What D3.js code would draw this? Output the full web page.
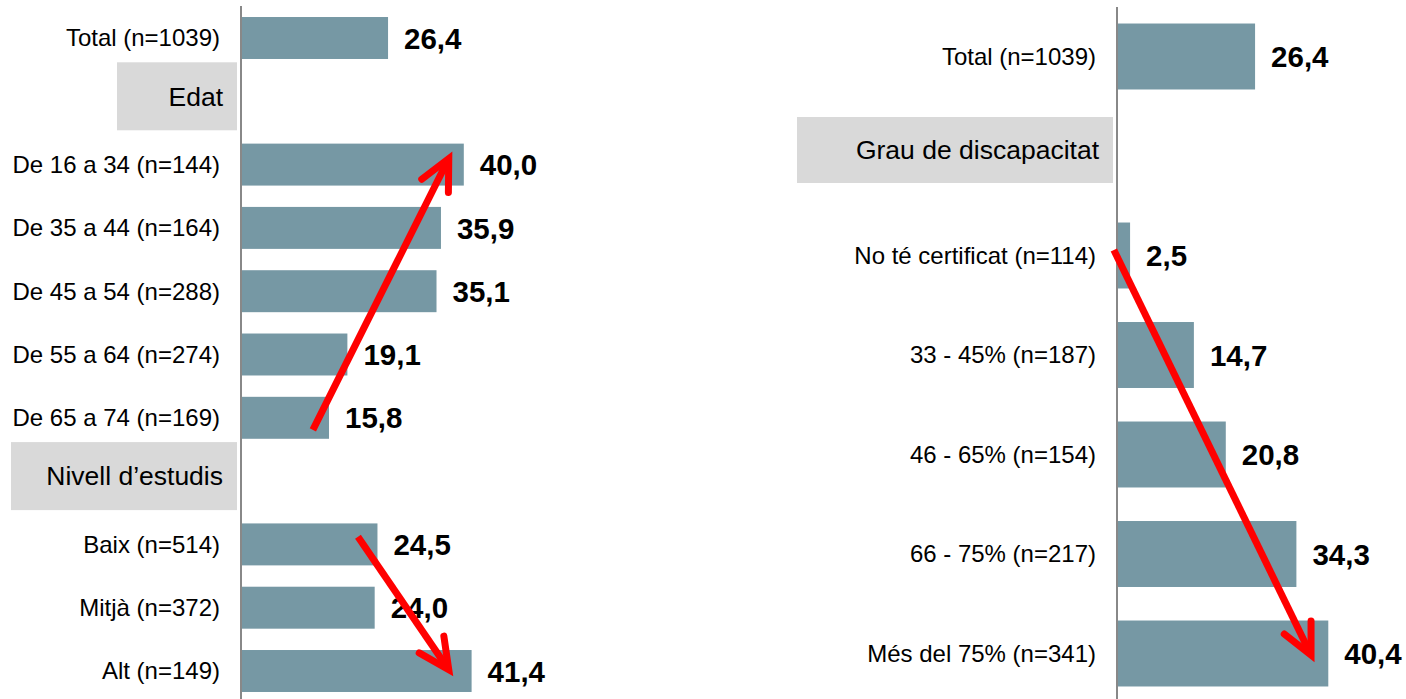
<!DOCTYPE html>
<html>
<head>
<meta charset="utf-8">
<script src="https://cdn.jsdelivr.net/npm/d3@7"></script>
<style>
  html, body { margin: 0; padding: 0; background: #fff; }
  svg { display: block; font-family: "Liberation Sans", Arial, sans-serif; }
</style>
</head>
<body>
<svg id="chart" width="1406" height="699"></svg>
<script>
// ---------- DATA ----------
const leftCategories = [
  "Total (n=1039)", "Edat",
  "De 16 a 34 (n=144)", "De 35 a 44 (n=164)", "De 45 a 54 (n=288)",
  "De 55 a 64 (n=274)", "De 65 a 74 (n=169)",
  "Nivell d’estudis",
  "Baix (n=514)", "Mitjà (n=372)", "Alt (n=149)"
];
const leftValues = [26.4, null, 40.0, 35.9, 35.1, 19.1, 15.8, null, 24.5, 24.0, 41.4];
const leftHeaders = ["Edat", "Nivell d’estudis"];

const rightCategories = [
  "Total (n=1039)", "Grau de discapacitat",
  "No té certificat (n=114)", "33 - 45% (n=187)", "46 - 65% (n=154)",
  "66 - 75% (n=217)", "Més del 75% (n=341)"
];
const rightValues = [26.4, null, 2.5, 14.7, 20.8, 34.3, 40.4];
const rightHeaders = ["Grau de discapacitat"];

// Trend arrows (category, value, offset within row as fraction of step)
const leftArrows = [
  { from: ["De 65 a 74 (n=169)", 12.9, 0.19], to: ["De 16 a 34 (n=144)", 37.3, -0.095] },
  { from: ["Baix (n=514)", 21.0, -0.12], to: ["Alt (n=149)", 37.3, -0.02] }
];
const rightArrows = [
  { from: ["No té certificat (n=114)", -0.6, -0.055], to: ["Més del 75% (n=341)", 37.1, 0.015] }
];

// ---------- LAYOUT / STYLE ----------
const W = 1406, H = 699;
const BAR = "#7698a4", BOX = "#d9d9d9", AXIS = "#888888", RED = "#ff0000";
const fmt = d3.formatLocale({decimal: ",", thousands: ".", grouping: [3], currency: ["", "€"]}).format(".1f");

const svg = d3.select("#chart");
svg.append("rect").attr("width", W).attr("height", H).attr("fill", "#fff");

function panel(cfg) {
  const g = svg.append("g");
  const x = d3.scaleLinear().domain([0, 45]).range([cfg.axisX, cfg.axisX + 45 * cfg.pxPerUnit]);
  const y = d3.scalePoint().domain(cfg.categories).range(cfg.yRange);
  const step = y.step();
  const barH = step * 0.663;
  const rows = cfg.categories.map((c, i) => ({ c, v: cfg.values[i], header: cfg.headers.includes(c) }));

  // header boxes
  const hdr = rows.filter(d => d.header);
  g.selectAll("rect.hbox").data(hdr).join("rect")
    .attr("class", "hbox")
    .attr("x", d => cfg.boxLeft[d.c])
    .attr("width", d => cfg.axisX - 4 - cfg.boxLeft[d.c])
    .attr("y", d => y(d.c) + cfg.boxOffset - cfg.boxH / 2)
    .attr("height", cfg.boxH)
    .attr("fill", BOX);
  g.selectAll("text.htxt").data(hdr).join("text")
    .attr("class", "htxt")
    .attr("x", cfg.axisX - 18)
    .attr("y", d => y(d.c) + cfg.boxOffset)
    .attr("dy", "0.35em")
    .attr("text-anchor", "end")
    .attr("font-size", cfg.headerSize)
    .attr("fill", "#000")
    .text(d => d.c);

  const data = rows.filter(d => !d.header);
  // bars
  g.selectAll("rect.bar").data(data).join("rect")
    .attr("class", "bar")
    .attr("x", x(0))
    .attr("y", d => y(d.c) - barH / 2)
    .attr("width", d => x(d.v) - x(0))
    .attr("height", barH)
    .attr("fill", BAR);

  // category labels
  g.selectAll("text.cat").data(data).join("text")
    .attr("class", "cat")
    .attr("x", cfg.axisX - 21)
    .attr("y", d => y(d.c))
    .attr("dy", "0.35em")
    .attr("text-anchor", "end")
    .attr("font-size", cfg.labelSize)
    .attr("fill", "#000")
    .text(d => d.c);

  // value labels
  g.selectAll("text.val").data(data).join("text")
    .attr("class", "val")
    .attr("x", d => x(d.v) + 16)
    .attr("y", d => y(d.c))
    .attr("dy", "0.36em")
    .attr("font-size", 29.5)
    .attr("font-weight", "bold")
    .attr("fill", "#000")
    .text(d => fmt(d.v));

  // axis line
  g.append("line")
    .attr("x1", x(0)).attr("x2", x(0))
    .attr("y1", cfg.axisTop).attr("y2", H)
    .attr("stroke", AXIS).attr("stroke-width", 2);

  // arrows
  cfg.arrows.forEach(a => {
    const x1 = x(a.from[1]), y1 = y(a.from[0]) + a.from[2] * step;
    const x2 = x(a.to[1]), y2 = y(a.to[0]) + a.to[2] * step;
    const ang = Math.atan2(y1 - y2, x1 - x2);
    const L = 34, sp = 26 * Math.PI / 180;
    const w1 = [x2 + L * Math.cos(ang + sp), y2 + L * Math.sin(ang + sp)];
    const w2 = [x2 + L * Math.cos(ang - sp), y2 + L * Math.sin(ang - sp)];
    const sx = x2 + 3 * Math.cos(ang), sy = y2 + 3 * Math.sin(ang);
    g.append("line")
      .attr("x1", x1).attr("y1", y1).attr("x2", sx).attr("y2", sy)
      .attr("stroke", RED).attr("stroke-width", 7).attr("stroke-linecap", "butt");
    g.append("path")
      .attr("d", d3.line()([w1, [x2, y2], w2]))
      .attr("fill", "none")
      .attr("stroke", RED).attr("stroke-width", 7)
      .attr("stroke-linecap", "round").attr("stroke-linejoin", "miter");
  });
}

panel({
  categories: leftCategories, values: leftValues, headers: leftHeaders,
  axisX: 241, pxPerUnit: 5.57, yRange: [38, 671], axisTop: 6,
  boxLeft: { "Edat": 117, "Nivell d’estudis": 11 }, boxH: 68, boxOffset: -5,
  labelSize: 24, headerSize: 26.5, arrows: leftArrows
});
panel({
  categories: rightCategories, values: rightValues, headers: rightHeaders,
  axisX: 1117, pxPerUnit: 5.23, yRange: [56.5, 653.5], axisTop: 7,
  boxLeft: { "Grau de discapacitat": 797 }, boxH: 66, boxOffset: -6,
  labelSize: 24, headerSize: 26.5, arrows: rightArrows
});
</script>
</body>
</html>
